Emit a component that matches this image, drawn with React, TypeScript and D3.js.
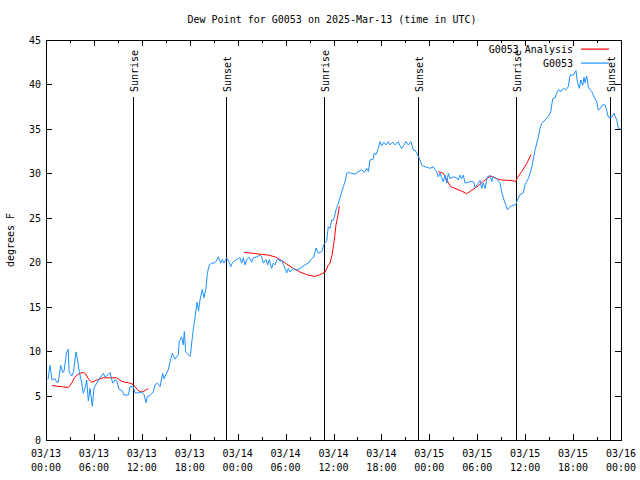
import React from "react";
import * as d3 from "d3";

const TITLE = "Dew Point for G0053 on 2025-Mar-13 (time in UTC)";
const Y_LABEL = "degrees F";
const START = Date.UTC(2025, 2, 13, 0, 0);
const END = Date.UTC(2025, 2, 16, 0, 0);

// hours since 2025-03-13 00:00 UTC
const blueHours = [0.25,0.5,0.75,1.13,1.34,1.54,1.84,2.09,2.25,2.59,2.79,2.88,3.22,3.42,3.76,3.92,4.17,4.47,4.67,4.88,5.1,5.3,5.51,5.8,6.01,6.35,6.76,7.18,7.39,7.6,8.01,8.35,8.64,8.85,9.14,9.48,9.77,10.31,10.52,10.93,11.14,11.56,11.98,12.27,12.52,12.68,13.02,13.44,13.65,13.94,14.28,14.61,14.78,15.31,15.53,15.82,16.15,16.57,16.69,16.99,17.19,17.32,17.49,17.82,18.03,18.12,18.24,18.44,18.66,18.91,19.1,19.28,19.57,19.78,20.04,20.2,20.45,20.75,21.04,21.29,21.58,21.88,22.08,22.29,22.63,22.95,23.13,23.38,23.67,24.08,24.29,24.51,24.71,24.92,25.13,25.46,25.76,25.96,26.38,26.8,27.01,27.21,27.55,27.76,27.96,28.26,28.46,28.68,28.89,29.09,29.3,29.51,29.8,30.14,30.34,30.55,30.97,31.31,31.81,32.43,32.85,33.27,33.56,33.81,34.1,34.52,34.85,35.15,35.35,35.56,35.78,35.98,36.1,36.31,36.53,36.73,37.03,37.23,37.44,37.65,37.85,38.28,38.69,39.11,39.53,39.86,40.16,40.36,40.57,40.98,41.07,41.32,41.61,41.82,42.04,42.32,42.57,42.86,43.08,43.41,43.7,44.12,44.33,44.54,44.83,45.08,45.37,45.71,45.99,46.21,46.42,46.62,46.83,47.05,47.46,48.09,48.5,48.71,48.92,49.12,49.34,49.55,49.75,49.96,50.18,50.38,50.59,51.0,51.43,51.63,51.84,52.05,52.26,52.47,52.88,53.31,53.59,53.72,54.01,54.35,54.56,54.76,54.97,55.26,55.6,55.81,56.01,56.44,56.85,57.06,57.35,57.6,57.77,58.1,58.52,58.85,59.02,59.36,59.77,59.98,60.19,60.39,60.82,61.23,61.65,61.86,62.07,62.48,62.9,63.2,63.45,63.74,63.95,64.15,64.49,64.78,65.11,65.4,65.62,66.03,66.37,66.53,66.78,66.96,67.21,67.37,67.49,67.71,67.91,68.12,68.33,68.62,68.96,69.16,69.37,69.71,70.0,70.21,70.41,70.84,71.13,71.46,71.67,71.88];
const blueValues = [6.8,8.4,6.75,6.9,6.5,6.5,8.4,7.6,7.7,9.9,10.2,7.7,7.2,7.6,9.9,9.2,7.7,6.45,5.25,5.8,6.75,4.4,5.8,3.8,5.85,6.4,7.0,7.5,7.1,7.2,7.6,6.4,6.75,6.7,5.7,5.6,5.06,5.06,6.0,6.0,5.3,5.3,5.4,5.1,4.2,4.9,5.0,5.4,6.2,6.4,6.0,7.5,6.9,7.9,8.8,9.75,9.1,9.6,11.06,11.6,10.7,12.2,9.9,9.6,9.4,9.75,10.9,12.4,13.8,15.5,14.5,15.75,16.95,16.0,17.1,18.75,19.7,19.9,19.9,20.06,20.6,19.9,20.3,19.9,20.5,20.0,19.5,20.0,20.2,20.4,20.5,19.9,20.5,19.7,20.3,20.55,20.0,20.5,20.6,20.8,20.6,19.9,20.3,19.7,20.3,19.3,19.9,19.7,20.25,20.4,20.1,20.25,19.6,18.8,19.3,18.9,19.3,19.1,19.3,19.7,19.9,20.4,20.6,21.6,21.0,21.2,22.1,22.4,24.0,23.8,24.75,24.7,25.0,25.9,26.4,27.0,27.9,28.5,29.06,30.0,30.1,30.0,29.9,30.2,30.4,30.1,30.56,30.2,31.5,31.6,32.25,32.1,32.8,33.56,33.1,33.5,33.2,33.56,33.2,33.5,33.2,33.56,33.1,32.8,33.2,33.56,33.2,33.56,32.6,32.6,32.3,31.9,31.5,30.9,30.75,30.56,30.75,30.4,30.2,29.6,30.0,29.5,29.06,29.8,28.9,30.0,29.4,29.6,29.5,29.25,29.8,29.4,29.8,28.9,29.0,29.1,29.0,28.4,28.7,29.2,28.3,28.9,28.3,29.6,29.75,29.1,29.6,29.4,28.9,27.9,27.0,26.4,25.9,26.25,26.4,26.5,27.0,27.6,27.8,28.7,29.06,29.4,30.6,32.6,34.1,35.06,35.6,36.0,36.4,36.9,38.4,38.5,39.0,39.4,39.2,39.56,39.4,39.75,41.06,41.06,41.55,40.3,39.56,40.5,39.9,40.8,40.2,40.95,39.75,39.4,39.2,38.6,38.06,37.1,37.3,37.7,37.7,37.1,36.3,36.3,36.75,36.0,35.06,35.06];

const analysisHours1 = [0.75,1.38,1.97,2.38,2.79,3.22,3.51,3.84,4.26,4.67,4.88,5.1,5.38,5.72,6.01,6.35,6.76,7.18,8.01,8.85,9.14,9.48,9.89,10.31,10.93,11.14,11.56,11.98,12.27,12.61,12.81];
const analysisValues1 = [6.15,6.05,6.0,5.95,5.9,6.4,6.9,7.3,7.5,7.6,7.5,7.2,6.8,6.5,6.6,6.75,6.9,7.0,7.0,7.0,6.8,6.6,6.5,6.45,6.25,6.0,5.55,5.4,5.5,5.7,5.75];
const analysisHours2 = [24.79,25.96,26.8,27.84,28.68,29.3,30.14,30.97,31.81,32.65,33.68,34.31,34.94,35.31,35.56,35.81,35.98,36.1,36.31,36.53,36.73];
const analysisValues2 = [21.1,21.0,20.9,20.8,20.6,20.3,19.8,19.3,18.9,18.6,18.4,18.6,18.9,19.6,19.9,20.8,21.75,22.5,24.2,25.1,26.3];
const analysisHours3 = [49.12,49.75,50.18,50.68,51.21,52.05,52.68,53.31,54.13,54.97,55.68,56.44,57.06,58.1,58.85,59.02,59.57,60.19,60.73];
const analysisValues3 = [30.2,30.0,29.25,28.5,28.3,28.0,27.7,28.1,28.6,29.25,29.7,29.4,29.25,29.2,29.1,29.5,30.2,31.1,32.1];

const sunEventHours = [10.88, 22.55, 34.85, 46.57, 58.83, 70.6];
const sunEventLabels = ["Sunrise", "Sunset", "Sunrise", "Sunset", "Sunrise", "Sunset"];
const yTicks = [0, 5, 10, 15, 20, 25, 30, 35, 40, 45];
const legendLabels = ["G0053 Analysis", "G0053"];

const BLUE = "#1e90ff";
const RED = "#ff0000";
const FONT = "'DejaVu Sans Mono', monospace";

const toDate = (h: number) => new Date(START + h * 3600 * 1000);

export default function App() {
  const W = 640, H = 480;
  const left = 46, right = 621, top = 40, bottom = 440;
  const x = d3.scaleUtc().domain([new Date(START), new Date(END)]).range([left, right]);
  const y = d3.scaleLinear().domain([0, 45]).range([bottom, top]);

  const line = d3.line<[number, number]>().x(d => x(toDate(d[0]))).y(d => y(d[1]));
  const blue = line(blueHours.map((h, i) => [h, blueValues[i]] as [number, number])) || "";
  const reds = [
    [analysisHours1, analysisValues1],
    [analysisHours2, analysisValues2],
    [analysisHours3, analysisValues3],
  ].map(([hs, vs]) => line(hs.map((h, i) => [h, vs[i]] as [number, number])) || "");

  const minorTicks = x.ticks(d3.utcHour.every(3)!);
  const labelTicks = x.ticks(d3.utcHour.every(6)!);
  const fmtDate = d3.utcFormat("%m/%d");
  const fmtTime = d3.utcFormat("%H:%M");
  const legendColors = [RED, BLUE];

  return (
    <svg width={W} height={H} style={{ position: "absolute", left: 0, top: 0, background: "#fff" }} fontFamily={FONT} fontSize={10}>
      <rect width={W} height={H} fill="#fff" />
      <text x={332} y={23} textAnchor="middle">{TITLE}</text>
      {yTicks.map(t => (
        <g key={"y" + t} shapeRendering="crispEdges">
          <line x1={left} x2={left + 6} y1={Math.round(y(t)) + 0.5} y2={Math.round(y(t)) + 0.5} stroke="#000" />
          <line x1={right - 6} x2={right} y1={Math.round(y(t)) + 0.5} y2={Math.round(y(t)) + 0.5} stroke="#000" />
          <text x={41} y={y(t) + 4} textAnchor="end">{t}</text>
        </g>
      ))}
      {minorTicks.map((t, i) => {
        const xx = Math.round(x(t)) + 0.5;
        const major = t.getUTCHours() % 6 === 0;
        const len = major ? 6 : 3;
        return (
          <g key={"xt" + i} shapeRendering="crispEdges">
            <line x1={xx} x2={xx} y1={bottom} y2={bottom - len} stroke="#000" />
            <line x1={xx} x2={xx} y1={top} y2={top + len} stroke="#000" />
          </g>
        );
      })}
      {labelTicks.map((t, i) => (
        <g key={"xl" + i}>
          <text x={x(t)} y={457} textAnchor="middle">{fmtDate(t)}</text>
          <text x={x(t)} y={471} textAnchor="middle">{fmtTime(t)}</text>
        </g>
      ))}
      <text transform={`translate(14,${(top + bottom) / 2}) rotate(-90)`} textAnchor="middle">{Y_LABEL}</text>
      {sunEventHours.map((h, i) => {
        const xx = Math.round(x(toDate(h))) + 0.5;
        return (
          <g key={"s" + i}>
            <line x1={xx} x2={xx} y1={97} y2={bottom} stroke="#000" shapeRendering="crispEdges" />
            <text transform={`translate(${xx + 4},92) rotate(-90)`} textAnchor="start">{sunEventLabels[i]}</text>
          </g>
        );
      })}
      {reds.map((d, i) => (
        <path key={"r" + i} d={d} fill="none" stroke={RED} strokeWidth={1} />
      ))}
      <path d={blue} fill="none" stroke={BLUE} strokeWidth={1} />
      <rect x={left + 0.5} y={top + 0.5} width={right - left} height={bottom - top} fill="none" stroke="#000" shapeRendering="crispEdges" />
      {legendLabels.map((lab, i) => (
        <g key={"lg" + i}>
          <text x={573} y={53 + i * 14} textAnchor="end">{lab}</text>
          <rect x={581} y={48.5 + i * 14} width={28} height={1.2} fill={legendColors[i]} />
        </g>
      ))}
    </svg>
  );
}
